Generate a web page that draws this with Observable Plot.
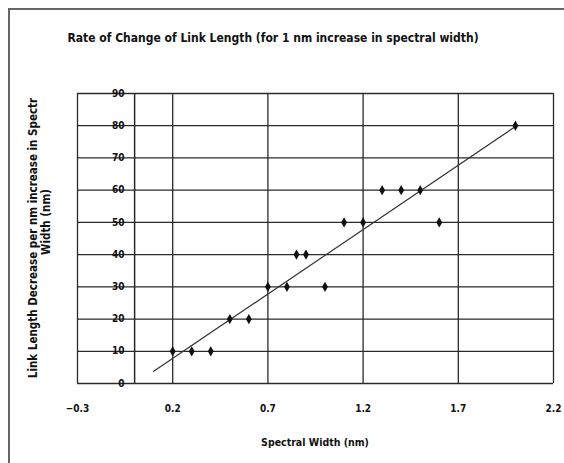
<!DOCTYPE html>
<html><head><meta charset="utf-8">
<script src="https://cdn.jsdelivr.net/npm/d3@7"></script>
<script src="https://cdn.jsdelivr.net/npm/@observablehq/plot@0.6"></script>
<style>
body{margin:0;background:#fff;overflow:hidden}
#wrap{position:relative;width:564px;height:463px;overflow:hidden;background:#fff}
#border{position:absolute;left:8px;top:8px;width:600px;height:500px;border-left:2px solid #666;border-top:2px solid #666}
#wrap svg{position:absolute;left:0;top:0}
</style></head><body><div id="wrap"><div id="border"></div></div>
<script>
// Data
const spectralWidth = [0.2, 0.3, 0.4, 0.5, 0.6, 0.7, 0.8, 0.85, 0.9, 1.0, 1.1, 1.2, 1.3, 1.4, 1.5, 1.6, 2.0];
const linkDecrease  = [10, 10, 10, 20, 20, 30, 30, 40, 40, 30, 50, 50, 60, 60, 60, 50, 80];
const xTicks = [-0.3, 0.2, 0.7, 1.2, 1.7, 2.2];
const yTicks = [0, 10, 20, 30, 40, 50, 60, 70, 80, 90];
const trendStart = 0.1; // trend line extended backward
const titleText = "Rate of Change of Link Length (for 1 nm increase in spectral width)";
const yLabelLines = ["Link Length Decrease per nm increase in Spectr", "Width (nm)"];
const xLabelText = "Spectral Width (nm)";

const data = spectralWidth.map((x, i) => ({x, y: linkDecrease[i]}));
// least-squares linear trend
const mx = d3.mean(spectralWidth), my = d3.mean(linkDecrease);
const slope = d3.sum(data, d => (d.x - mx) * (d.y - my)) / d3.sum(data, d => (d.x - mx) ** 2);
const intercept = my - slope * mx;
const trend = [trendStart, d3.max(spectralWidth)].map(x => ({x, y: intercept + slope * x}));

const font = "'Liberation Sans Narrow','DejaVu Sans Condensed','Arial Narrow',sans-serif";
const ink = "#2a2a2a";

const chart = Plot.plot({
  width: 564, height: 463,
  marginLeft: 77, marginRight: 11, marginTop: 93, marginBottom: 80,
  style: {fontFamily: font, fontSize: "10px", fontWeight: "bold", background: "transparent", color: "#111"},
  x: {domain: [-0.3, 2.2], ticks: xTicks, tickSize: 0, tickPadding: 21, label: null, tickFormat: d3.format(".1f")},
  y: {domain: [0, 90], axis: null},
  marks: [
    Plot.ruleY(yTicks, {stroke: ink, strokeWidth: 1.3}),
    Plot.ruleX(xTicks, {stroke: ink, strokeWidth: 1.3}),
    Plot.ruleX([0], {stroke: ink, strokeWidth: 1.5}),
    Plot.text(yTicks, {x: () => 0, y: d => d, text: d => String(d), dx: -10, textAnchor: "end", fill: "#111"}),
    Plot.line(trend, {x: "x", y: "y", stroke: "#333", strokeWidth: 1.2}),
    Plot.dot(data, {x: "x", y: "y", symbol: "diamond", r: 3.1, fill: "#111", stroke: "none"})
  ]
});

const svg = d3.select(chart);
svg.append("text").attr("x", 273).attr("y", 42).attr("text-anchor", "middle")
  .attr("font-family", font).attr("font-weight", "bold").attr("font-size", "12px").attr("fill", "#111")
  .text(titleText);
yLabelLines.forEach((t, i) => {
  svg.append("text").attr("transform", `translate(${37 + i * 13},${238 - i * 16}) rotate(-90)`)
    .attr("text-anchor", "middle").attr("font-family", font).attr("font-weight", "bold")
    .attr("font-size", "11.5px").attr("fill", "#111").text(t);
});
svg.append("text").attr("x", 315).attr("y", 446).attr("text-anchor", "middle")
  .attr("font-family", font).attr("font-weight", "bold").attr("font-size", "10.5px").attr("fill", "#111")
  .text(xLabelText);

document.getElementById("wrap").appendChild(chart);
</script>
</body></html>
